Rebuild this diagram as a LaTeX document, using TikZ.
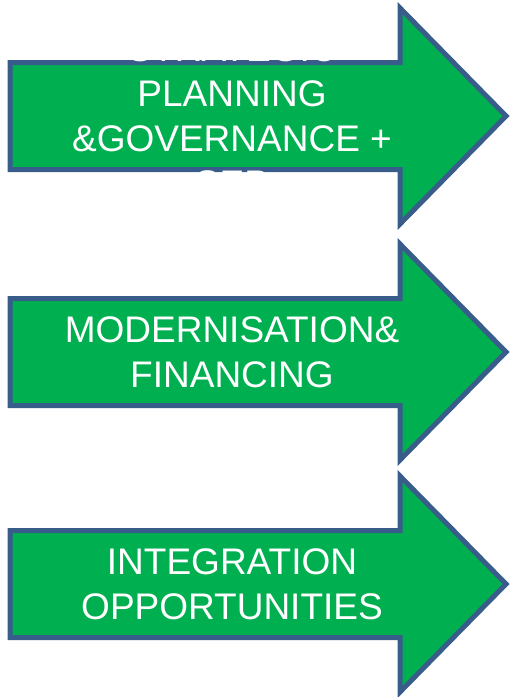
\documentclass[tikz,border=0pt]{standalone}
\usepackage{fontspec}
\setmainfont{Liberation Sans}
\definecolor{arrowgreen}{HTML}{00B050}
\definecolor{arrowblue}{HTML}{385D8A}
\tikzset{
  arrowbox/.style={draw=arrowblue,fill=arrowgreen,line width=5pt,miter limit=4},
  arrowtext/.style={text=white,align=center,inner sep=0pt,font=\fontsize{37}{45}\selectfont}
}

\begin{document}
\begin{tikzpicture}[x=1pt,y=-1pt]
            \useasboundingbox (0,0) rectangle (510,697);

            \foreach \c in {116,352,584}{
              \draw[arrowbox] (10,\c-53.5)--(400,\c-53.5)--(400,\c-108)--(506,\c)
                --(400,\c+108)--(400,\c+53.5)--(10,\c+53.5)--cycle;
            }

            \node[arrowtext] (plan) at (232,116) {STRATEGIC\\PLANNING\\\&GOVERNANCE +\\SEP};
            \node[arrowtext] (modern) at (232,352) {MODERNISATION\&\\FINANCING};
            \node[arrowtext] (integr) at (232,584) {INTEGRATION\\OPPORTUNITIES};
        \end{tikzpicture}
\end{document}
